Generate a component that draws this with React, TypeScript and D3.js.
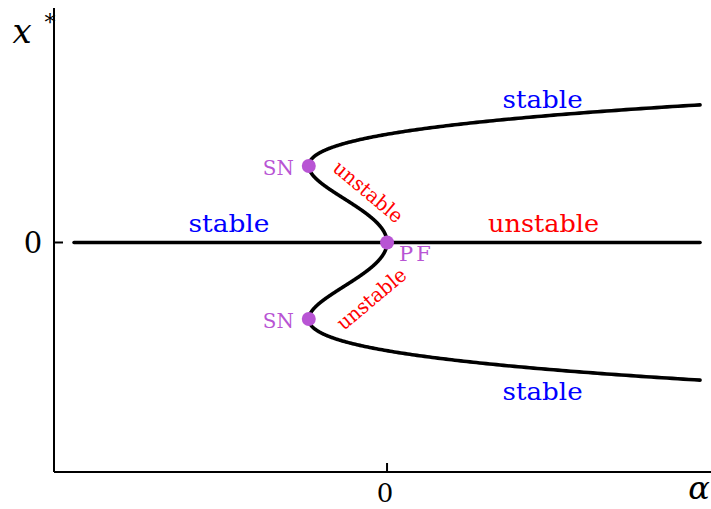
import React from "react";
import * as d3 from "d3";

// Normal form dx/dt = a*x + x^3 - x^5 : equilibria x = 0 and a = x^4 - x^2
const alphaDomain = [-1.064, 1.035];
const xDomain = [-2.121, 2.167];
const alphaRange = [-1.0, 1.0]; // span of the trivial branch
const alphaMax = 1.0; // right end of the outer branches
const alphaTicks = [0];
const xTicks = [0];
const tickLabels = ["0"];
const bifurcationPoints = [
  { name: "SN", alpha: -0.25, x: Math.SQRT1_2 },
  { name: "SN", alpha: -0.25, x: -Math.SQRT1_2 },
  { name: "PF", alpha: 0, x: 0 },
];

const W = 711;
const H = 509;
const FONT = "DejaVu Serif";

export default function App() {
  const ax = d3.scaleLinear().domain(alphaDomain).range([54, 711]);
  const ay = d3.scaleLinear().domain(xDomain).range([472, 8]);

  const alphaOf = (x: number) => x ** 4 - x ** 2;
  const xEnd = Math.sqrt((1 + Math.sqrt(1 + 4 * alphaMax)) / 2);
  const samples = d3.range(0, 401).map((i) => (i / 400) * xEnd);

  const line = d3
    .line<number>()
    .x((x) => ax(alphaOf(x)))
    .y((x) => ay(x))
    .curve(d3.curveLinear);

  const upper = line(samples) || "";
  const lower = line(samples.map((v) => -v)) || "";
  const trivial =
    d3
      .line<number>()
      .x((a) => ax(a))
      .y(() => ay(0))(alphaRange) || "";

  const purple = "#b854d4";

  return (
    <svg
      width={W}
      height={H}
      style={{ position: "absolute", left: 0, top: 0, display: "block", background: "#fff", fontFamily: FONT }}
    >
      {/* axes */}
      <line x1={ax(alphaDomain[0])} x2={ax(alphaDomain[0])} y1={ay(xDomain[1])} y2={ay(xDomain[0])} stroke="#000" strokeWidth={2} />
      <line x1={ax(alphaDomain[0])} x2={W} y1={ay(xDomain[0])} y2={ay(xDomain[0])} stroke="#000" strokeWidth={2} />
      {xTicks.map((t, i) => (
        <g key={"yt" + i}>
          <line x1={ax(alphaDomain[0])} x2={ax(alphaDomain[0]) + 9} y1={ay(t)} y2={ay(t)} stroke="#000" strokeWidth={2} />
          <text x={33} y={ay(t) + 11} fontSize={29} textAnchor="middle">{tickLabels[i]}</text>
        </g>
      ))}
      {alphaTicks.map((t, i) => (
        <g key={"xt" + i}>
          <line x1={ax(t)} x2={ax(t)} y1={ay(xDomain[0])} y2={ay(xDomain[0]) - 9} stroke="#000" strokeWidth={2} />
          <text x={ax(t) - 2} y={502} fontSize={26} textAnchor="middle">{tickLabels[i]}</text>
        </g>
      ))}
      <text x={699} y={499} fontSize={32} fontStyle="italic" textAnchor="middle">α</text>
      <text x={22} y={43} fontSize={34} fontStyle="italic" textAnchor="middle">x</text>
      <text x={50} y={30} fontSize={22} textAnchor="middle">*</text>

      {/* branches */}
      <path d={trivial} fill="none" stroke="#000" strokeWidth={3.6} strokeLinecap="round" />
      <path d={upper} fill="none" stroke="#000" strokeWidth={3.6} strokeLinecap="round" />
      <path d={lower} fill="none" stroke="#000" strokeWidth={3.6} strokeLinecap="round" />

      {/* stability labels */}
      <text x={ax(-0.505)} y={232} fontSize={25} fill="#0000ff" textAnchor="middle" textLength={81} lengthAdjust="spacingAndGlyphs">stable</text>
      <text x={ax(0.5)} y={232} fontSize={25} fill="#ff0000" textAnchor="middle" textLength={111} lengthAdjust="spacingAndGlyphs">unstable</text>
      <text x={ax(0.497)} y={108} fontSize={25} fill="#0000ff" textAnchor="middle" textLength={80} lengthAdjust="spacingAndGlyphs">stable</text>
      <text x={ax(0.497)} y={400} fontSize={25} fill="#0000ff" textAnchor="middle" textLength={80} lengthAdjust="spacingAndGlyphs">stable</text>
      <text transform={`translate(${ax(-0.06)},${ay(0.47)}) rotate(40)`} fontSize={20} fill="#ff0000" textAnchor="middle" dy="0.35em" textLength={84} lengthAdjust="spacingAndGlyphs">unstable</text>
      <text transform={`translate(${ax(-0.05)},${ay(-0.52)}) rotate(-40)`} fontSize={20} fill="#ff0000" textAnchor="middle" dy="0.35em" textLength={84} lengthAdjust="spacingAndGlyphs">unstable</text>

      {/* bifurcation points */}
      {bifurcationPoints.map((p, i) => (
        <g key={"bp" + i}>
          <circle cx={ax(p.alpha)} cy={ay(p.x)} r={7} fill={purple} />
          {p.name === "SN" ? (
            <text x={ax(p.alpha) - 15} y={ay(p.x) + 9} fontSize={21} fill={purple} textAnchor="end" textLength={31} lengthAdjust="spacingAndGlyphs">{p.name}</text>
          ) : (
            <text x={ax(p.alpha) + 12} y={ay(p.x) + 19} fontSize={21} fill={purple} textAnchor="start" letterSpacing={3}>{p.name}</text>
          )}
        </g>
      ))}
    </svg>
  );
}
